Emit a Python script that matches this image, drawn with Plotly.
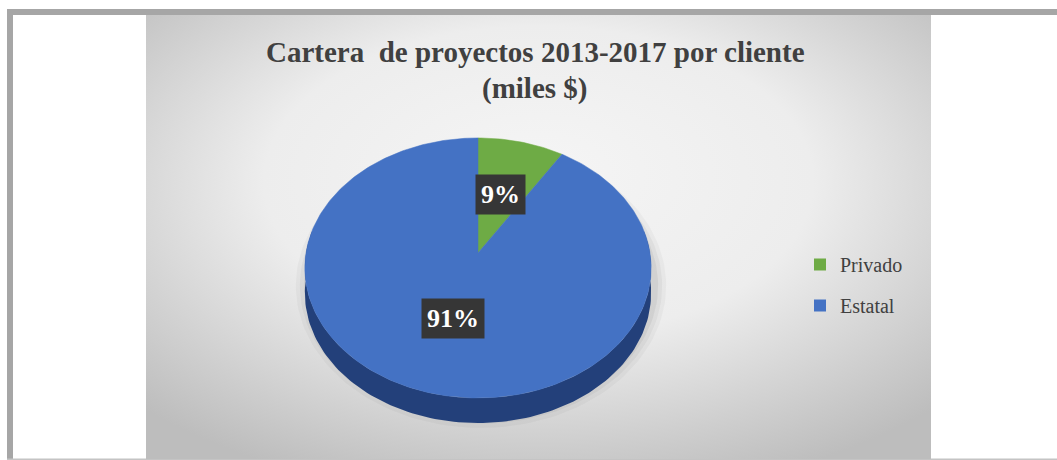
import base64
import numpy as np
import plotly.graph_objects as go

# ---------------- data ----------------
categories = ["Privado", "Estatal"]
values = [9, 91]                      # share of portfolio (%)
slice_colors = ["#6eab45", "#4472c4"]
title_line1 = "Cartera\u00a0 de proyectos 2013-2017 por cliente"
title_line2 = "(miles $)"

# ---------------- layout constants ----------------
W, H = 1057, 460
CX, CY, RX, RY, DEPTH, PERSP = 478, 253, 172, 128.3, 25, 0.115
SIDE_COLOR = "#23407a"
SERIF = "Liberation Serif, Times New Roman, serif"

total = float(sum(values))


def ell(theta_deg, r=1.0, dy=0.0):
    """Project a point of the tilted disc (clockwise angle from 12 o'clock)."""
    t = np.radians(theta_deg)
    s, c = r * np.sin(t), r * np.cos(t)
    w = 1 + PERSP * c
    return CX + RX * s / w, CY - RY * c / w + dy


fig = go.Figure()

# soft shadow under the pie
for grow, alpha in [(12, 0.03), (8, 0.04), (4, 0.05)]:
    th = np.linspace(0, 360, 181)
    xs, ys = ell(th)
    xs = CX + 3 + (xs - CX) * (1 + grow / RX)
    ys = ys + DEPTH / 2 + 5 + (ys - (CY + 12)) * (grow / RY)
    fig.add_trace(go.Scatter(x=xs, y=ys, mode="lines", fill="toself",
                             fillcolor=f"rgba(0,0,0,{alpha})", line=dict(width=0),
                             hoverinfo="skip", showlegend=False))

# side band of the 3D pie (front half)
th = np.linspace(80, 280, 141)
tx, ty = ell(th)
bx, by = ell(th[::-1], dy=DEPTH)
fig.add_trace(go.Scatter(x=np.concatenate([tx, bx]), y=np.concatenate([ty, by]),
                         mode="lines", fill="toself", fillcolor=SIDE_COLOR,
                         line=dict(width=0), hoverinfo="skip", showlegend=False))

# top face slices, clockwise from 12 o'clock
start = 0.0
mids = []
for cat, v, col in zip(categories, values, slice_colors):
    span = 360.0 * v / total
    th = np.linspace(start, start + span, max(int(span), 2) + 1)
    ax_, ay_ = ell(th)
    xs = np.concatenate([[CX], ax_, [CX]])
    ys = np.concatenate([[CY], ay_, [CY]])
    fig.add_trace(go.Scatter(x=xs, y=ys, mode="lines", fill="toself",
                             fillcolor=col, line=dict(width=0.5, color=col),
                             hoverinfo="skip", showlegend=False))
    mids.append(start + span / 2)
    start += span

# legend entries
for cat, col in zip(categories, slice_colors):
    fig.add_trace(go.Scatter(x=[None], y=[None], mode="markers", name=cat,
                             legendgroup=cat,
                             marker=dict(symbol="square", size=9, color=col)))

# data labels
for v, m in zip(values, mids):
    lx, ly = ell(m, r=0.5)
    fig.add_annotation(x=lx, y=ly, xref="x", yref="y", showarrow=False,
                       text=f"<b>{v / total * 100:.0f}%</b>",
                       font=dict(family=SERIF, size=26, color="white"),
                       bgcolor="#363636", borderpad=5)

# title
fig.add_annotation(x=535, y=52, xref="x", yref="y", showarrow=False,
                   text=f"<b>{title_line1}</b>",
                   font=dict(family=SERIF, size=29, color="#404040"))
fig.add_annotation(x=535, y=88, xref="x", yref="y", showarrow=False,
                   text=f"<b>{title_line2}</b>",
                   font=dict(family=SERIF, size=29, color="#404040"))

# gradient background panel
svg = (
    '<svg xmlns="http://www.w3.org/2000/svg" width="785" height="444" '
    'preserveAspectRatio="none" viewBox="0 0 785 444">'
    '<defs><radialGradient id="g" cx="50%" cy="40%" r="70%" fx="50%" fy="35%">'
    '<stop offset="0%" stop-color="#f5f5f5"/>'
    '<stop offset="50%" stop-color="#ededed"/>'
    '<stop offset="100%" stop-color="#bdbdbd"/>'
    '</radialGradient></defs>'
    '<rect width="785" height="444" fill="url(#g)"/></svg>'
)
uri = "data:image/svg+xml;base64," + base64.b64encode(svg.encode()).decode()
fig.add_layout_image(source=uri, xref="x", yref="y", x=146, y=15,
                     sizex=785, sizey=444, xanchor="left", yanchor="top",
                     sizing="stretch", layer="below")

# outer frame
fig.add_shape(type="rect", xref="x", yref="y", x0=7, x1=W, y0=9, y1=15,
              fillcolor="#a6a6a6", line=dict(width=0), layer="below")
fig.add_shape(type="rect", xref="x", yref="y", x0=7, x1=13, y0=9, y1=H,
              fillcolor="#a6a6a6", line=dict(width=0), layer="below")
fig.add_shape(type="rect", xref="x", yref="y", x0=7, x1=W, y0=458.5, y1=H,
              fillcolor="#c4c4c4", line=dict(width=0), layer="below")

fig.update_layout(
    width=W, height=H,
    margin=dict(l=0, r=0, t=0, b=0),
    paper_bgcolor="white", plot_bgcolor="rgba(0,0,0,0)",
    xaxis=dict(range=[0, W], visible=False, fixedrange=True),
    yaxis=dict(range=[H, 0], visible=False, fixedrange=True),
    showlegend=True,
    legend=dict(x=800 / W, xanchor="left", y=1 - 245 / H, yanchor="top",
                font=dict(family=SERIF, size=20, color="#404040"),
                bgcolor="rgba(0,0,0,0)", tracegroupgap=12,
                itemsizing="constant"),
)

fig.write_html("out.html")
